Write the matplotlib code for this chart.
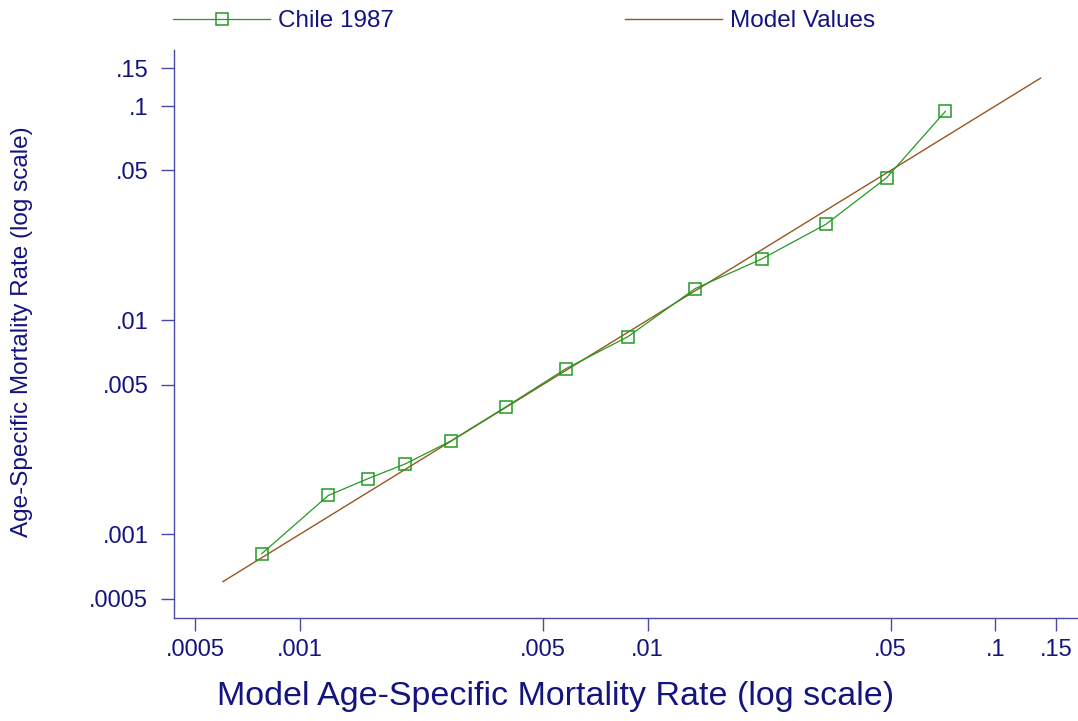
import numpy as np
import matplotlib
matplotlib.use('Agg')
import matplotlib.pyplot as plt
from matplotlib.lines import Line2D

# Chile 1987 observed vs model age-specific mortality rates
model_rate = [0.000776, 0.001206, 0.001566, 0.002005, 0.002714, 0.003915, 0.00582,
              0.00878, 0.01369, 0.02129, 0.03254, 0.04873, 0.07187]
chile_rate = [0.000810, 0.001516, 0.001815, 0.002127, 0.002723, 0.003939, 0.00593,
              0.00837, 0.01402, 0.01930, 0.02800, 0.04628, 0.09445]

# reference line: model values plotted against themselves
model_x = [0.0006, 0.135]
model_y = [0.0006, 0.135]

ticks = [0.0005, 0.001, 0.005, 0.01, 0.05, 0.1, 0.15]
tick_labels = ['.0005', '.001', '.005', '.01', '.05', '.1', '.15']

navy = '#14147f'
axcol = '#4a4aa6'
green = '#239a23'
brown = '#97561f'

plt.rcParams['font.family'] = ['Liberation Sans', 'DejaVu Sans']

fig = plt.figure(figsize=(10.78, 7.21), dpi=100)
ax = fig.add_axes([0.16141, 0.14230, 0.83859, 0.78891])

ax.plot(model_x, model_y, '-', color=brown, lw=1.0)
ax.plot(model_rate, chile_rate, '-', color=green, lw=0.9,
        marker='s', ms=8, mfc='none', mec=green, mew=1.1)

ax.set_xscale('log')
ax.set_yscale('log')
ax.set_xlim(4.34e-4, 0.1730)
ax.set_ylim(4.04e-4, 0.1835)
ax.minorticks_off()
ax.set_xticks(ticks, tick_labels)
ax.set_yticks(ticks, tick_labels)

for s in ['top', 'right']:
    ax.spines[s].set_visible(False)
for s in ['left', 'bottom']:
    ax.spines[s].set_color(axcol)
    ax.spines[s].set_linewidth(1.0)

ax.tick_params(axis='both', which='major', direction='out', length=9.5, width=1.0,
               color=axcol, labelcolor=navy, labelsize=17)
ax.tick_params(axis='x', pad=5)
ax.tick_params(axis='y', pad=9)

# axis titles
fig.text(556 / 1078, 1 - 697 / 721, 'Model Age-Specific Mortality Rate (log scale)',
         fontsize=24.5, color=navy, ha='center', va='center')
fig.text(22 / 1078, 1 - 332 / 721, 'Age-Specific Mortality Rate (log scale)', rotation=90,
         fontsize=17.5, color=navy, ha='center', va='center')

# legend across the top, one entry at a time
h1 = Line2D([], [], color=green, lw=0.9, marker='s', ms=8, mfc='none', mec=green, mew=1.1)
h2 = Line2D([], [], color=brown, lw=1.0)
for h, lab, x0 in [(h1, 'Chile 1987', 173), (h2, 'Model Values', 625)]:
    fig.legend([h], [lab], loc='center left', bbox_to_anchor=(x0 / 1078, 1 - 21 / 721),
               frameon=False, borderpad=0, borderaxespad=0, handlelength=4.0,
               handletextpad=0.33, fontsize=17.5, labelcolor=navy)

plt.savefig('out.png', dpi=100)
